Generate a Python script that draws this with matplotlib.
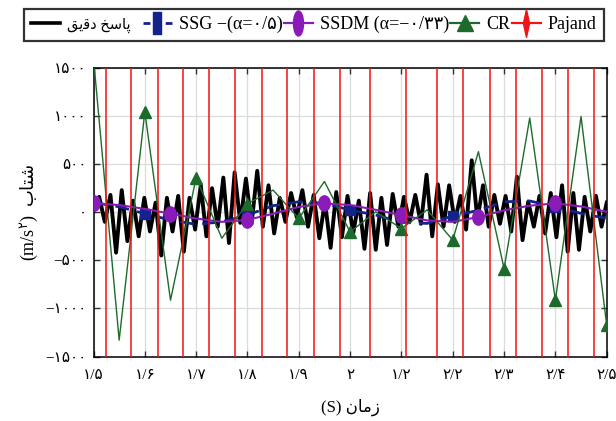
import matplotlib
matplotlib.use("Agg")
import matplotlib.pyplot as plt
from matplotlib.lines import Line2D
from matplotlib.path import Path
from matplotlib.transforms import Affine2D

plt.rcParams["font.family"] = ["Liberation Serif", "DejaVu Sans"]
plt.rcParams["mathtext.fontset"] = "custom"
plt.rcParams["mathtext.rm"] = "Liberation Serif"
plt.rcParams["mathtext.it"] = "Liberation Serif:italic"
plt.rcParams["mathtext.sf"] = "DejaVu Sans"

# exact response, read peak by peak
exact_t = [1.500, 1.511, 1.522, 1.533, 1.544, 1.555, 1.566, 1.577, 1.588, 1.599,
           1.610, 1.621, 1.632, 1.643, 1.654, 1.665, 1.676, 1.687, 1.698, 1.709,
           1.720, 1.731, 1.742, 1.753, 1.764, 1.775, 1.786, 1.797, 1.808, 1.819,
           1.830, 1.841, 1.852, 1.863, 1.874, 1.885, 1.896, 1.907, 1.918, 1.929,
           1.940, 1.951, 1.962, 1.973, 1.984, 1.995, 2.006, 2.017, 2.028, 2.039,
           2.050, 2.061, 2.072, 2.083, 2.094, 2.105, 2.116, 2.127, 2.138, 2.149,
           2.160, 2.171, 2.182, 2.193, 2.204, 2.215, 2.226, 2.237, 2.248, 2.259,
           2.270, 2.281, 2.292, 2.303, 2.314, 2.325, 2.336, 2.347, 2.358, 2.369,
           2.380, 2.391, 2.402, 2.413, 2.424, 2.435, 2.446, 2.457, 2.468, 2.479,
           2.490, 2.500]
exact_a = [10, 160, -100, 180, -420, 230, -300, 120, -250, 150,
           -200, 100, -450, 150, -200, 170, -410, 150, -180, 280,
           -250, 250, -150, 360, -320, 415, -110, 350, -120, 430,
           -150, 280, -220, 150, -100, 200, -50, 230, -150, 180,
           -270, 110, -370, 210, -260, 170, -220, 120, -380, 200,
           -390, 150, -340, 190, -150, 160, -100, 180, -120, 390,
           -250, 290, -150, 280, -100, 170, -180, 540, -80, 280,
           -150, 180, -120, 170, -200, 370, -290, 110, -150, 170,
           -220, 200, -260, 280, -410, 200, -390, 160, -200, 170,
           -150, 100]

step_t = [1.50, 1.55, 1.60, 1.65, 1.70, 1.75, 1.80, 1.85, 1.90, 1.95, 2.00,
          2.05, 2.10, 2.15, 2.20, 2.25, 2.30, 2.35, 2.40, 2.45, 2.50]
ssg_a = [100, 57, -15, -81, -126, -100, -29, 68, 109, 93, 23,
         -29, -105, -116, -40, 20, 109, 117, 57, -12, -64]
ssdm_a = [93, 75, 35, -15, -65, -100, -80, -15, 55, 92, 75,
          25, -30, -85, -100, -50, 20, 68, 93, 60, 5]
cr_a = [1600, -1330, 1045, -915, 360, -270, 90, 230, -65, 320, -205,
        5, -170, 25, -290, 630, -585, 980, -915, 995, -1175]

# Pajand diverges: it swings far off the axis, crossing it at these times
pajand_t = [1.5238, 1.5731, 1.6251, 1.6750, 1.7256, 1.7763, 1.8278, 1.8776,
            1.9297, 1.9809, 2.0395, 2.1095, 2.1695, 2.2200, 2.2720, 2.3227,
            2.3745, 2.4243, 2.4753]
pajand_amp = 1e5

x_ticks = [1.5, 1.6, 1.7, 1.8, 1.9, 2.0, 2.1, 2.2, 2.3, 2.4, 2.5]
x_labels = ["۱/۵", "۱/۶", "۱/۷", "۱/۸", "۱/۹", "۲", "۱/۲", "۲/۲", "۲/۳", "۲/۴", "۲/۵"]
y_ticks = [-1500, -1000, -500, 0, 500, 1000, 1500]
y_labels = ["−۱۵۰۰", "−۱۰۰۰", "−۵۰۰", "۰", "۵۰۰", "۱۰۰۰", "۱۵۰۰"]

# Persian words in shaped, visual order
label_exact = "\uFED6\uFBFE\uFED7\uFEA9 \uFEA6\uFEB3\uFE8E\uFB58"
label_y = r"$\mathrm{(m/s}^{\mathsf{۲}}\mathrm{)}\ \ \mathsf{" + "\uFE8F\uFE8E\uFE98\uFEB7" + "}$"
label_x = "(S) \uFEE5\uFE8E\uFEE3\uFEAF"

ellipse = Path.unit_circle().transformed(Affine2D().scale(0.75, 1.0))
tall_ellipse = Path.unit_circle().transformed(Affine2D().scale(0.4, 1.0))
tall_rect = Path([(-0.35, -1), (0.35, -1), (0.35, 1), (-0.35, 1), (-0.35, -1)],
                 [Path.MOVETO, Path.LINETO, Path.LINETO, Path.LINETO, Path.CLOSEPOLY])
thin_diamond = Path([(0, 1), (0.22, 0), (0, -1), (-0.22, 0), (0, 1)],
                    [Path.MOVETO, Path.LINETO, Path.LINETO, Path.LINETO, Path.CLOSEPOLY])

C_SSG = "#14238c"
C_SSDM = "#8a1bb8"
C_CR = "#1d6b2c"
C_PAJ = "#f01414"

fig = plt.figure(figsize=(6.16, 4.21), dpi=100)
ax = fig.add_axes([0.1518, 0.1532, 0.8331, 0.6853])

ax.grid(True, color="#dcdcdc", linewidth=0.9)
ax.set_axisbelow(True)

ax.plot(exact_t, exact_a, color="black", linewidth=2.8, zorder=2)
ax.plot(step_t, ssg_a, color=C_SSG, linewidth=2.0, dashes=(5, 3),
        marker="s", markersize=7, markevery=(2, 4), zorder=3)
ax.plot(step_t, ssdm_a, color=C_SSDM, linewidth=1.5,
        marker=ellipse, markersize=11, markevery=3, zorder=4)
ax.plot(step_t, cr_a, color=C_CR, linewidth=1.0,
        marker="^", markersize=9, markevery=2, zorder=5)

paj_x, paj_y = [], []
for i, t in enumerate(pajand_t):
    s = 1 if i % 2 == 0 else -1
    paj_x += [t, t]
    paj_y += [-s * pajand_amp, s * pajand_amp]
ax.plot(paj_x, paj_y, color=C_PAJ, linewidth=1.1, zorder=6)

ax.set_xlim(1.5, 2.5)
ax.set_ylim(-1500, 1500)
ax.set_xticks(x_ticks)
ax.set_xticklabels(x_labels, fontsize=11)
ax.set_yticks(y_ticks)
ax.set_yticklabels(y_labels, fontsize=11)
ax.tick_params(direction="in", length=4, width=1, top=True, right=True,
               color="#333333")
ax.tick_params(axis="x", pad=9)
ax.tick_params(axis="y", pad=5)
for sp in ax.spines.values():
    sp.set_linewidth(1.1)

ax.set_xlabel(label_x, fontsize=12, labelpad=12)
ax.set_ylabel(label_y, fontsize=13, labelpad=3)

handles = [
    Line2D([], [], color="black", linewidth=2.6),
    Line2D([], [], color=C_SSG, linewidth=2.0, dashes=(2.5, 1.5),
           marker=tall_rect, markersize=16),
    Line2D([], [], color=C_SSDM, linewidth=1.6, marker=tall_ellipse, markersize=18),
    Line2D([], [], color=C_CR, linewidth=1.6, marker="^", markersize=12),
    Line2D([], [], color=C_PAJ, linewidth=1.6, marker=thin_diamond, markersize=20),
]
labels = [label_exact + "   ", "SSG −(α=۰/۵)", "SSDM (α=−۰/۳۳)", "CR", "Pajand"]
leg = fig.legend(handles, labels, loc="center", ncol=5, mode="expand",
                 bbox_to_anchor=(0.024, 0.90, 0.971, 0.083),
                 fontsize=13, handlelength=1.6, handletextpad=0.4,
                 columnspacing=0.4, borderpad=0.4, fancybox=False,
                 framealpha=1, edgecolor="#333333")
leg.get_frame().set_linewidth(1.6)
leg.get_texts()[0].set_fontsize(10.5)

fig.savefig("out.png", dpi=100)
